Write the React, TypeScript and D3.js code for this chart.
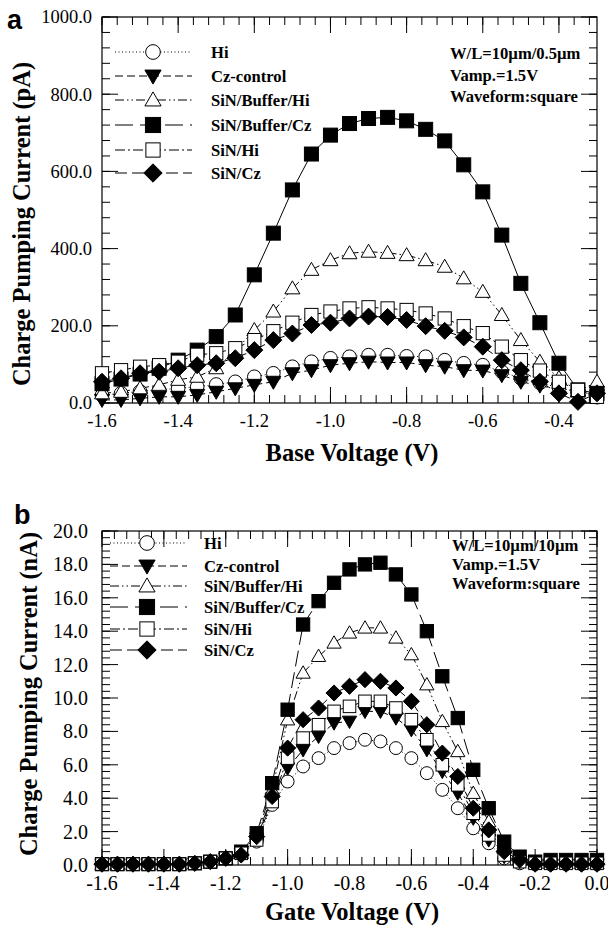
import React from 'react';
import * as d3 from 'd3';

// ---------- data ----------
const SERIES = ['Hi', 'Cz-control', 'SiN/Buffer/Hi', 'SiN/Buffer/Cz', 'SiN/Hi', 'SiN/Cz'];
const SYMBOLS = ['circle', 'triDown', 'triUp', 'square', 'squareOpen', 'diamond'];
const DASHES = ['1,2.5', '8,4', '9,3,1.5,3,1.5,3', '18,7', '10,3,2,3', '12,5'];

// panel a: Base voltage (V) vs charge pumping current (pA)
const A_X = [-1.6, -1.55, -1.5, -1.45, -1.4, -1.35, -1.3, -1.25, -1.2, -1.15, -1.1, -1.05, -1.0, -0.95,
  -0.9, -0.85, -0.8, -0.75, -0.7, -0.65, -0.6, -0.55, -0.5, -0.45, -0.4, -0.35, -0.3];
const A_HI = [20, 25, 30, 34, 38, 42, 48, 55, 68, 77, 94, 107, 116, 120, 124, 124, 121, 120, 111, 103, 98, 81, 64, 52, 40, 28, 15];
const A_CZ = [8, 8, 12, 16, 16, 21, 29, 38, 47, 55, 77, 85, 98, 103, 107, 105, 105, 98, 94, 85, 84, 72, 55, 45, 35, 20, 20];
const A_BUF_HI = [25, 29, 38, 47, 60, 68, 90, 135, 189, 237, 297, 345, 370, 388, 392, 389, 383, 370, 353, 323, 288, 228, 163, 107, 65, 30, 55];
const A_BUF_CZ = [50, 62, 75, 90, 111, 137, 172, 228, 332, 440, 552, 645, 694, 724, 737, 740, 731, 709, 679, 617, 547, 435, 310, 208, 103, 34, 25];
const A_SIN_HI = [77, 85, 94, 98, 107, 125, 129, 142, 163, 186, 208, 228, 237, 245, 248, 245, 241, 232, 219, 199, 181, 146, 111, 84, 55, 34, 16];
const A_SIN_CZ = [55, 64, 77, 81, 90, 98, 103, 116, 137, 163, 180, 202, 208, 219, 224, 223, 215, 199, 187, 170, 146, 111, 85, 55, 25, 3, 25];
const A_X_TICKS = [-1.6, -1.4, -1.2, -1.0, -0.8, -0.6, -0.4];
const A_Y_TICKS = [0, 200, 400, 600, 800, 1000];
const A_NOTES = ['W/L=10\u00b5m/0.5\u00b5m', 'Vamp.=1.5V', 'Waveform:square'];
const A_LINE_DASHES = ['1,2.5', '8,4', '9,3,1.5,3,1.5,3', 'none', '10,3,2,3', '12,5'];

// panel b: Gate voltage (V) vs charge pumping current (nA)
const B_X = [-1.6, -1.55, -1.5, -1.45, -1.4, -1.35, -1.3, -1.25, -1.2, -1.15, -1.1, -1.05, -1.0, -0.95,
  -0.9, -0.85, -0.8, -0.75, -0.7, -0.65, -0.6, -0.55, -0.5, -0.45, -0.4, -0.35, -0.3, -0.25, -0.2,
  -0.15, -0.1, -0.05, 0.0];
const B_HI = [0.05, 0.05, 0.05, 0.05, 0.05, 0.05, 0.1, 0.2, 0.4, 0.7, 1.4, 3.6, 5.0, 5.9, 6.4, 7.0, 7.3, 7.5, 7.4, 7.0, 6.4, 5.5, 4.5, 3.4, 2.2, 1.3, 0.4, 0.1, 0.05, 0.05, 0.05, 0.05, 0.05];
const B_CZ = [0.05, 0.05, 0.05, 0.05, 0.05, 0.05, 0.1, 0.2, 0.4, 0.7, 1.6, 4.0, 5.8, 6.9, 7.7, 8.5, 8.6, 9.2, 9.2, 8.8, 8.1, 6.9, 5.6, 4.3, 2.8, 1.5, 0.5, 0.2, 0.05, 0.05, 0.05, 0.05, 0.05];
const B_BUF_HI = [0.05, 0.05, 0.05, 0.05, 0.05, 0.05, 0.1, 0.2, 0.4, 0.7, 1.8, 4.5, 8.7, 11.5, 12.5, 13.3, 13.9, 14.2, 14.2, 13.6, 12.6, 10.8, 8.6, 6.8, 4.3, 2.6, 1.0, 0.3, 0.1, 0.1, 0.1, 0.1, 0.1];
const B_BUF_CZ = [0.05, 0.05, 0.05, 0.05, 0.05, 0.05, 0.1, 0.2, 0.4, 0.8, 1.9, 4.9, 9.3, 14.4, 15.8, 16.9, 17.7, 18.0, 18.1, 17.4, 16.2, 14.0, 11.3, 8.8, 5.7, 3.4, 1.4, 0.5, 0.2, 0.3, 0.3, 0.3, 0.3];
const B_SIN_HI = [0.05, 0.05, 0.05, 0.05, 0.05, 0.05, 0.1, 0.2, 0.4, 0.7, 1.5, 3.8, 6.4, 7.6, 8.4, 9.2, 9.5, 9.8, 9.8, 9.4, 8.7, 7.5, 6.0, 4.8, 3.1, 1.8, 0.6, 0.2, 0.1, 0.1, 0.1, 0.1, 0.1];
const B_SIN_CZ = [0.05, 0.05, 0.05, 0.05, 0.05, 0.05, 0.1, 0.2, 0.4, 0.6, 1.7, 4.1, 7.0, 8.7, 9.4, 10.3, 10.7, 11.1, 11.0, 10.6, 9.8, 8.4, 6.7, 5.3, 3.4, 2.1, 0.8, 0.3, 0.05, 0.05, 0.05, 0.05, 0.05];
const B_X_TICKS = [-1.6, -1.4, -1.2, -1.0, -0.8, -0.6, -0.4, -0.2, 0.0];
const B_Y_TICKS = [0, 2, 4, 6, 8, 10, 12, 14, 16, 18, 20];
const B_NOTES = ['W/L=10\u00b5m/10\u00b5m', 'Vamp.=1.5V', 'Waveform:square'];
const B_LINE_DASHES = ['1,2.5', '8,4', '9,3,1.5,3,1.5,3', '16,6', '10,3,2,3', '12,5'];

const SERIF = 'Liberation Serif';
const SANS = 'Liberation Sans';

function Marker({ type, x, y, s = 1 }: { type: string; x: number; y: number; s?: number }) {
  const sw = 1;
  if (type === 'circle') return <circle cx={x} cy={y} r={6.8 * s} fill="#fff" stroke="#000" strokeWidth={sw} />;
  if (type === 'triDown') {
    const w = 7.5 * s, h1 = 5.5 * s, h2 = 7.5 * s;
    return <polygon points={`${x - w},${y - h1} ${x + w},${y - h1} ${x},${y + h2}`} fill="#000" stroke="#000" strokeWidth={sw} />;
  }
  if (type === 'triUp') {
    const w = 7.5 * s, h1 = 7.5 * s, h2 = 5.5 * s;
    return <polygon points={`${x},${y - h1} ${x - w},${y + h2} ${x + w},${y + h2}`} fill="#fff" stroke="#000" strokeWidth={sw} />;
  }
  if (type === 'square') {
    const h = 7 * s;
    return <rect x={x - h} y={y - h} width={2 * h} height={2 * h} fill="#000" stroke="#000" strokeWidth={sw} />;
  }
  if (type === 'squareOpen') {
    const h = 6.6 * s;
    return <rect x={x - h} y={y - h} width={2 * h} height={2 * h} fill="#fff" stroke="#000" strokeWidth={sw} />;
  }
  const d = 8.5 * s;
  return <polygon points={`${x},${y - d} ${x + d},${y} ${x},${y + d} ${x - d},${y}`} fill="#000" stroke="#000" strokeWidth={sw} />;
}

type PanelProps = {
  xDomain: [number, number];
  yDomain: [number, number];
  frame: { l: number; r: number; t: number; b: number };
  xs: number[];
  data: number[][];
  lineDashes: string[];
  xTicks: number[];
  yTicks: number[];
  xMinor: number;
  yMinor: number;
  tickFont: number;
  yLabelGap: number;
  xLabelBase: number;
  xTitle: string;
  yTitle: string;
  xTitlePos: [number, number];
  yTitlePos: [number, number];
  letter: string;
  letterPos: [number, number];
  legend: { x1: number; x2: number; mx: number; tx: number; rows: number[] };
  notes: string[];
  notePos: { x: number; rows: number[] };
  ms: number;
};

function Panel(p: PanelProps) {
  const { l, r, t, b } = p.frame;
  const x = d3.scaleLinear().domain(p.xDomain).range([l, r]);
  const y = d3.scaleLinear().domain(p.yDomain).range([b, t]);
  const eps = 1e-9;
  const xMinors = d3.range(p.xDomain[0], p.xDomain[1] + eps, p.xMinor);
  const yMinors = d3.range(p.yDomain[0], p.yDomain[1] + eps, p.yMinor);
  const MAJ = 16, MIN = 8;
  const order = [0, 1, 2, 3, 4, 5];
  return (
    <g>
      {xMinors.map((v, i) => (
        <g key={'xm' + i}>
          <line x1={x(v)} x2={x(v)} y1={b} y2={b - MIN} stroke="#000" />
          <line x1={x(v)} x2={x(v)} y1={t} y2={t + MIN} stroke="#000" />
        </g>
      ))}
      {p.xTicks.map((v, i) => (
        <g key={'xM' + i}>
          <line x1={x(v)} x2={x(v)} y1={b} y2={b - MAJ} stroke="#000" />
          <line x1={x(v)} x2={x(v)} y1={t} y2={t + MAJ} stroke="#000" />
          <text x={x(v)} y={p.xLabelBase} textAnchor="middle" fontFamily={SERIF} fontSize={p.tickFont}>{v.toFixed(1)}</text>
        </g>
      ))}
      {yMinors.map((v, i) => (
        <g key={'ym' + i}>
          <line x1={l} x2={l + MIN} y1={y(v)} y2={y(v)} stroke="#000" />
          <line x1={r} x2={r - MIN} y1={y(v)} y2={y(v)} stroke="#000" />
        </g>
      ))}
      {p.yTicks.map((v, i) => (
        <g key={'yM' + i}>
          <line x1={l} x2={l + MAJ} y1={y(v)} y2={y(v)} stroke="#000" />
          <line x1={r} x2={r - MAJ} y1={y(v)} y2={y(v)} stroke="#000" />
          <text x={l - p.yLabelGap} y={y(v)} dy="0.35em" textAnchor="end" fontFamily={SERIF} fontSize={p.tickFont}>{v.toFixed(1)}</text>
        </g>
      ))}
      <rect x={l} y={t} width={r - l} height={b - t} fill="none" stroke="#000" strokeWidth={1.2} />

      {order.map((si) => (
        <g key={'ln' + si}>
          {p.xs.slice(0, -1).map((xv, i) => (
            <line key={i} x1={x(xv)} y1={y(p.data[si][i])} x2={x(p.xs[i + 1])} y2={y(p.data[si][i + 1])}
              stroke="#000" strokeWidth={1} strokeDasharray={p.lineDashes[si]} />
          ))}
        </g>
      ))}
      {order.map((si) => (
        <g key={'mk' + si}>
          {p.xs.map((xv, i) => (
            <Marker key={i} type={SYMBOLS[si]} x={x(xv)} y={y(p.data[si][i])} s={p.ms} />
          ))}
        </g>
      ))}

      {SERIES.map((name, si) => (
        <g key={'lg' + si}>
          <line x1={p.legend.x1} x2={p.legend.x2} y1={p.legend.rows[si]} y2={p.legend.rows[si]} stroke="#000" strokeDasharray={DASHES[si]} />
          <Marker type={SYMBOLS[si]} x={p.legend.mx} y={p.legend.rows[si]} s={1.08} />
          <text x={p.legend.tx} y={p.legend.rows[si]} dy="0.35em" fontFamily={SERIF} fontWeight="bold" fontSize={16.6}>{name}</text>
        </g>
      ))}
      {p.notes.map((n, i) => (
        <text key={'nt' + i} x={p.notePos.x} y={p.notePos.rows[i]} dy="0.35em" fontFamily={SERIF} fontWeight="bold" fontSize={16.6}>{n}</text>
      ))}

      <text x={p.xTitlePos[0]} y={p.xTitlePos[1]} textAnchor="middle" fontFamily={SERIF} fontWeight="bold" fontSize={24.5}>{p.xTitle}</text>
      <text transform={`translate(${p.yTitlePos[0]},${p.yTitlePos[1]}) rotate(-90)`} textAnchor="middle" fontFamily={SERIF} fontWeight="bold" fontSize={24.5}>{p.yTitle}</text>
      <text x={p.letterPos[0]} y={p.letterPos[1]} fontFamily={SANS} fontWeight="bold" fontSize={27}>{p.letter}</text>
    </g>
  );
}

export default function App() {
  return (
    <svg width={608} height={930} viewBox="0 0 608 930" style={{ position: 'absolute', left: 0, top: 0, background: '#fff' }}>
      <rect x={0} y={0} width={608} height={930} fill="#fff" />
      <Panel
        xDomain={[-1.6, -0.3]} yDomain={[0, 1000]}
        frame={{ l: 102, r: 597, t: 17, b: 403 }}
        xs={A_X} data={[A_HI, A_CZ, A_BUF_HI, A_BUF_CZ, A_SIN_HI, A_SIN_CZ]}
        lineDashes={A_LINE_DASHES}
        xTicks={A_X_TICKS} yTicks={A_Y_TICKS} xMinor={0.04} yMinor={40}
        tickFont={18.5} yLabelGap={10} xLabelBase={427}
        xTitle="Base Voltage (V)" yTitle="Charge Pumping Current (pA)"
        xTitlePos={[352, 461]} yTitlePos={[30, 224]}
        letter="a" letterPos={[7, 28.5]}
        legend={{ x1: 115, x2: 192, mx: 153, tx: 211, rows: [52, 76, 100, 125, 150, 173] }}
        notes={A_NOTES} notePos={{ x: 450, rows: [53, 75, 96] }}
        ms={1}
      />
      <Panel
        xDomain={[-1.6, 0]} yDomain={[0, 20]}
        frame={{ l: 102, r: 597, t: 531, b: 865 }}
        xs={B_X} data={[B_HI, B_CZ, B_BUF_HI, B_BUF_CZ, B_SIN_HI, B_SIN_CZ]}
        lineDashes={B_LINE_DASHES}
        xTicks={B_X_TICKS} yTicks={B_Y_TICKS} xMinor={0.04} yMinor={0.4}
        tickFont={20} yLabelGap={14} xLabelBase={890}
        xTitle="Gate Voltage (V)" yTitle="Charge Pumping Current (nA)"
        xTitlePos={[352, 920]} yTitlePos={[37, 694]}
        letter="b" letterPos={[14, 523.5]}
        legend={{ x1: 110, x2: 187, mx: 147, tx: 204, rows: [543, 566, 586, 607, 629, 650] }}
        notes={B_NOTES} notePos={{ x: 452, rows: [545, 564, 583] }}
        ms={0.95}
      />
    </svg>
  );
}
